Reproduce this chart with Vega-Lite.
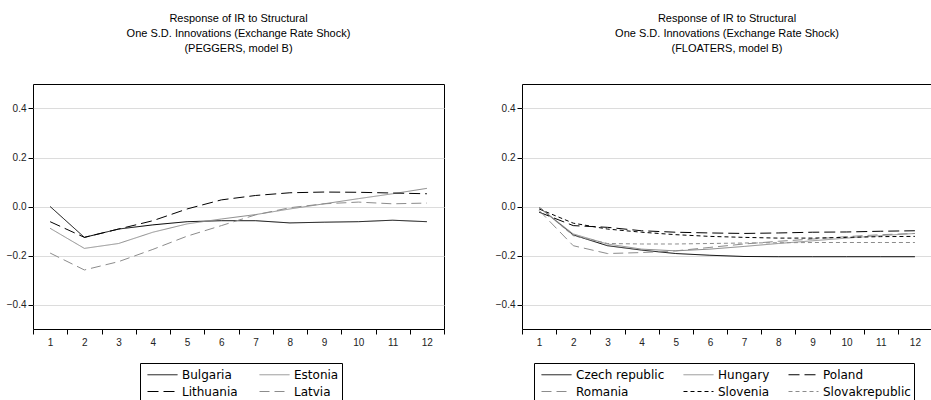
{
  "$schema": "https://vega.github.io/schema/vega-lite/v6.json",
  "background": "white",
  "padding": {"left": 5, "top": 12, "right": 0, "bottom": 0},
  "spacing": 49,
  "config": {
    "font": "Liberation Sans",
    "view": {"stroke": "black", "strokeWidth": 1},
    "axis": {"labelFont": "Liberation Sans", "labelFontSize": 10, "labelColor": "#222", "tickColor": "black", "domain": false, "tickSize": 5, "labelPadding": 2, "gridColor": "#dcdcdc", "title": null},
    "axisX": {"grid": false, "labelAngle": 0, "tickBand": "extent", "labelPadding": 3},
    "legend": {"symbolType": "M-1.875,0H1.875", "symbolSize": 256, "symbolStrokeWidth": 1, "symbolOffset": 11, "labelFont": "DejaVu Sans", "labelFontSize": 12, "labelColor": "black", "strokeColor": "black", "padding": 3, "rowPadding": 2, "labelOffset": 11, "orient": "none", "direction": "horizontal", "title": null},
    "title": {"fontSize": 11, "fontWeight": "normal", "font": "Liberation Sans", "lineHeight": 15, "offset": 30, "anchor": "middle", "color": "black"},
    "line": {"strokeWidth": 1}
  },
  "datasets": {
    "peg": [
      {"country": "Bulgaria", "h": 1, "v": 0.0}, {"country": "Bulgaria", "h": 2, "v": -0.126}, {"country": "Bulgaria", "h": 3, "v": -0.092}, {"country": "Bulgaria", "h": 4, "v": -0.075}, {"country": "Bulgaria", "h": 5, "v": -0.062}, {"country": "Bulgaria", "h": 6, "v": -0.058}, {"country": "Bulgaria", "h": 7, "v": -0.058}, {"country": "Bulgaria", "h": 8, "v": -0.067}, {"country": "Bulgaria", "h": 9, "v": -0.064}, {"country": "Bulgaria", "h": 10, "v": -0.062}, {"country": "Bulgaria", "h": 11, "v": -0.056}, {"country": "Bulgaria", "h": 12, "v": -0.062},
      {"country": "Estonia", "h": 1, "v": -0.089}, {"country": "Estonia", "h": 2, "v": -0.171}, {"country": "Estonia", "h": 3, "v": -0.151}, {"country": "Estonia", "h": 4, "v": -0.105}, {"country": "Estonia", "h": 5, "v": -0.071}, {"country": "Estonia", "h": 6, "v": -0.051}, {"country": "Estonia", "h": 7, "v": -0.033}, {"country": "Estonia", "h": 8, "v": -0.01}, {"country": "Estonia", "h": 9, "v": 0.011}, {"country": "Estonia", "h": 10, "v": 0.032}, {"country": "Estonia", "h": 11, "v": 0.052}, {"country": "Estonia", "h": 12, "v": 0.074},
      {"country": "Lithuania", "h": 1, "v": -0.062}, {"country": "Lithuania", "h": 2, "v": -0.126}, {"country": "Lithuania", "h": 3, "v": -0.092}, {"country": "Lithuania", "h": 4, "v": -0.058}, {"country": "Lithuania", "h": 5, "v": -0.01}, {"country": "Lithuania", "h": 6, "v": 0.027}, {"country": "Lithuania", "h": 7, "v": 0.045}, {"country": "Lithuania", "h": 8, "v": 0.056}, {"country": "Lithuania", "h": 9, "v": 0.059}, {"country": "Lithuania", "h": 10, "v": 0.058}, {"country": "Lithuania", "h": 11, "v": 0.055}, {"country": "Lithuania", "h": 12, "v": 0.052},
      {"country": "Latvia", "h": 1, "v": -0.19}, {"country": "Latvia", "h": 2, "v": -0.259}, {"country": "Latvia", "h": 3, "v": -0.225}, {"country": "Latvia", "h": 4, "v": -0.175}, {"country": "Latvia", "h": 5, "v": -0.121}, {"country": "Latvia", "h": 6, "v": -0.078}, {"country": "Latvia", "h": 7, "v": -0.034}, {"country": "Latvia", "h": 8, "v": -0.005}, {"country": "Latvia", "h": 9, "v": 0.011}, {"country": "Latvia", "h": 10, "v": 0.018}, {"country": "Latvia", "h": 11, "v": 0.011}, {"country": "Latvia", "h": 12, "v": 0.014}
    ],
    "flt": [
      {"country": "Czech republic", "h": 1, "v": -0.003}, {"country": "Czech republic", "h": 2, "v": -0.116}, {"country": "Czech republic", "h": 3, "v": -0.16}, {"country": "Czech republic", "h": 4, "v": -0.178}, {"country": "Czech republic", "h": 5, "v": -0.192}, {"country": "Czech republic", "h": 6, "v": -0.199}, {"country": "Czech republic", "h": 7, "v": -0.204}, {"country": "Czech republic", "h": 8, "v": -0.205}, {"country": "Czech republic", "h": 9, "v": -0.205}, {"country": "Czech republic", "h": 10, "v": -0.205}, {"country": "Czech republic", "h": 11, "v": -0.205}, {"country": "Czech republic", "h": 12, "v": -0.205},
      {"country": "Hungary", "h": 1, "v": -0.003}, {"country": "Hungary", "h": 2, "v": -0.112}, {"country": "Hungary", "h": 3, "v": -0.153}, {"country": "Hungary", "h": 4, "v": -0.174}, {"country": "Hungary", "h": 5, "v": -0.181}, {"country": "Hungary", "h": 6, "v": -0.174}, {"country": "Hungary", "h": 7, "v": -0.163}, {"country": "Hungary", "h": 8, "v": -0.151}, {"country": "Hungary", "h": 9, "v": -0.14}, {"country": "Hungary", "h": 10, "v": -0.129}, {"country": "Hungary", "h": 11, "v": -0.119}, {"country": "Hungary", "h": 12, "v": -0.11},
      {"country": "Poland", "h": 1, "v": -0.023}, {"country": "Poland", "h": 2, "v": -0.078}, {"country": "Poland", "h": 3, "v": -0.085}, {"country": "Poland", "h": 4, "v": -0.099}, {"country": "Poland", "h": 5, "v": -0.105}, {"country": "Poland", "h": 6, "v": -0.108}, {"country": "Poland", "h": 7, "v": -0.11}, {"country": "Poland", "h": 8, "v": -0.108}, {"country": "Poland", "h": 9, "v": -0.105}, {"country": "Poland", "h": 10, "v": -0.104}, {"country": "Poland", "h": 11, "v": -0.101}, {"country": "Poland", "h": 12, "v": -0.099},
      {"country": "Romania", "h": 1, "v": -0.016}, {"country": "Romania", "h": 2, "v": -0.16}, {"country": "Romania", "h": 3, "v": -0.192}, {"country": "Romania", "h": 4, "v": -0.188}, {"country": "Romania", "h": 5, "v": -0.181}, {"country": "Romania", "h": 6, "v": -0.167}, {"country": "Romania", "h": 7, "v": -0.153}, {"country": "Romania", "h": 8, "v": -0.142}, {"country": "Romania", "h": 9, "v": -0.133}, {"country": "Romania", "h": 10, "v": -0.123}, {"country": "Romania", "h": 11, "v": -0.115}, {"country": "Romania", "h": 12, "v": -0.11},
      {"country": "Slovenia", "h": 1, "v": -0.01}, {"country": "Slovenia", "h": 2, "v": -0.068}, {"country": "Slovenia", "h": 3, "v": -0.092}, {"country": "Slovenia", "h": 4, "v": -0.105}, {"country": "Slovenia", "h": 5, "v": -0.115}, {"country": "Slovenia", "h": 6, "v": -0.122}, {"country": "Slovenia", "h": 7, "v": -0.126}, {"country": "Slovenia", "h": 8, "v": -0.129}, {"country": "Slovenia", "h": 9, "v": -0.129}, {"country": "Slovenia", "h": 10, "v": -0.126}, {"country": "Slovenia", "h": 11, "v": -0.123}, {"country": "Slovenia", "h": 12, "v": -0.122},
      {"country": "Slovakrepublic", "h": 1, "v": -0.003}, {"country": "Slovakrepublic", "h": 2, "v": -0.119}, {"country": "Slovakrepublic", "h": 3, "v": -0.151}, {"country": "Slovakrepublic", "h": 4, "v": -0.153}, {"country": "Slovakrepublic", "h": 5, "v": -0.153}, {"country": "Slovakrepublic", "h": 6, "v": -0.151}, {"country": "Slovakrepublic", "h": 7, "v": -0.149}, {"country": "Slovakrepublic", "h": 8, "v": -0.148}, {"country": "Slovakrepublic", "h": 9, "v": -0.147}, {"country": "Slovakrepublic", "h": 10, "v": -0.147}, {"country": "Slovakrepublic", "h": 11, "v": -0.147}, {"country": "Slovakrepublic", "h": 12, "v": -0.147}
    ]
  },
  "resolve": {"scale": {"color": "independent", "strokeDash": "independent"}, "legend": {"color": "independent", "strokeDash": "independent"}},
  "hconcat": [
    {
      "width": 411,
      "height": 245,
      "title": {"text": ["Response of IR to Structural", "One S.D. Innovations (Exchange Rate Shock)", "(PEGGERS, model B)"]},
      "layer": [
        {
          "data": {"name": "peg"},
          "mark": {"type": "line", "strokeWidth": 1},
          "encoding": {
            "x": {"field": "h", "type": "ordinal", "scale": {"type": "band", "paddingInner": 0, "paddingOuter": 0}},
            "y": {"field": "v", "type": "quantitative", "scale": {"domain": [-0.5, 0.5], "nice": false}, "axis": {"values": [-0.4, -0.2, 0, 0.2, 0.4], "format": ".1f", "grid": true}},
            "color": {"field": "country", "type": "nominal", "scale": {"domain": ["Bulgaria", "Estonia", "Lithuania", "Latvia"], "range": ["#000000", "#8c8c8c", "#000000", "#8c8c8c"]}, "legend": {"columns": 2, "columnPadding": 17, "legendX": 107, "legendY": 279}},
            "strokeDash": {"field": "country", "type": "nominal", "scale": {"domain": ["Bulgaria", "Estonia", "Lithuania", "Latvia"], "range": [[1, 0], [1, 0], [11, 5], [10, 5]]}, "legend": {"columns": 2, "columnPadding": 17, "legendX": 107, "legendY": 279}},
            "detail": {"field": "country"}
          }
        },
        {
          "mark": {"type": "rule", "color": "black", "strokeWidth": 1},
          "encoding": {"y": {"datum": 0}}
        }
      ]
    },
    {
      "width": 410,
      "height": 245,
      "title": {"text": ["Response of IR to Structural", "One S.D. Innovations (Exchange Rate Shock)", "(FLOATERS, model B)"]},
      "layer": [
        {
          "data": {"name": "flt"},
          "mark": {"type": "line", "strokeWidth": 1},
          "encoding": {
            "x": {"field": "h", "type": "ordinal", "scale": {"type": "band", "paddingInner": 0, "paddingOuter": 0}},
            "y": {"field": "v", "type": "quantitative", "scale": {"domain": [-0.5, 0.5], "nice": false}, "axis": {"values": [-0.4, -0.2, 0, 0.2, 0.4], "format": ".1f", "grid": true}},
            "color": {"field": "country", "type": "nominal", "scale": {"domain": ["Czech republic", "Hungary", "Poland", "Romania", "Slovenia", "Slovakrepublic"], "range": ["#000000", "#8c8c8c", "#000000", "#8c8c8c", "#000000", "#8c8c8c"]}, "legend": {"columns": 3, "columnPadding": 14, "legendX": 12, "legendY": 279}},
            "strokeDash": {"field": "country", "type": "nominal", "scale": {"domain": ["Czech republic", "Hungary", "Poland", "Romania", "Slovenia", "Slovakrepublic"], "range": [[1, 0], [1, 0], [11, 5], [10, 5], [4, 3], [4, 3]]}, "legend": {"columns": 3, "columnPadding": 14, "legendX": 12, "legendY": 279}},
            "detail": {"field": "country"}
          }
        },
        {
          "mark": {"type": "rule", "color": "black", "strokeWidth": 1},
          "encoding": {"y": {"datum": 0}}
        }
      ]
    }
  ]
}
